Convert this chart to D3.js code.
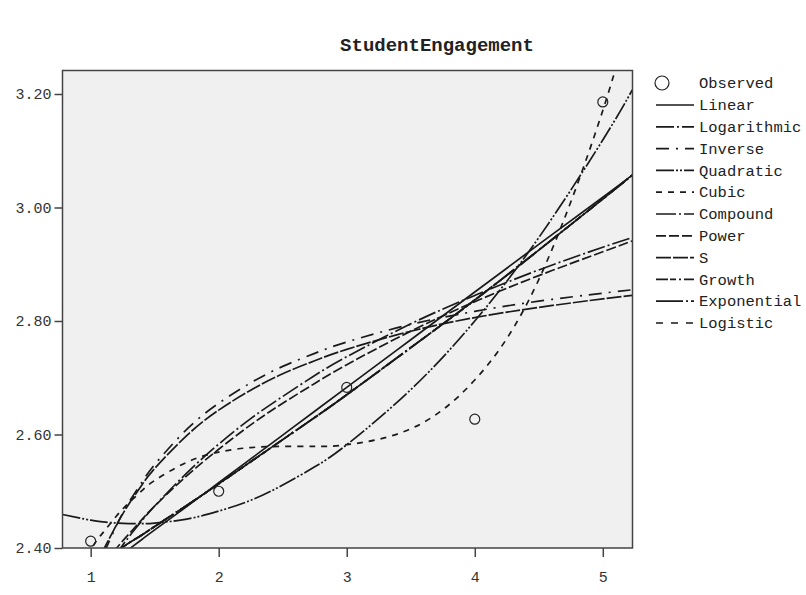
<!DOCTYPE html>
<html>
<head>
<meta charset="utf-8">
<script src="https://cdn.jsdelivr.net/npm/d3@7"></script>
<style>
  body { margin: 0; background: #fff; }
  svg text { font-family: "Liberation Mono", "Courier New", monospace; fill: #222; }
</style>
</head>
<body>
<script>
// observed category means
var categories = [1, 2, 3, 4, 5];
var observed = [2.412, 2.500, 2.683, 2.627, 3.186];

// fitted curves, values at these x positions
var xGrid = [0.78, 1.0, 1.1, 1.2, 1.3, 1.4, 1.5, 1.75, 2.0, 2.25, 2.5, 2.75, 3.0, 3.5, 4.0, 4.5, 5.0, 5.23];
var linearFit =      [2.311, 2.348, 2.364, 2.381, 2.398, 2.415, 2.432, 2.473, 2.515, 2.557, 2.599, 2.641, 2.683, 2.767, 2.851, 2.935, 3.018, 3.057];
var logarithmicFit = [2.226, 2.320, 2.356, 2.389, 2.420, 2.448, 2.474, 2.532, 2.583, 2.628, 2.667, 2.704, 2.737, 2.795, 2.845, 2.890, 2.930, 2.947];
var inverseFit =     [2.148, 2.331, 2.390, 2.439, 2.481, 2.516, 2.547, 2.609, 2.655, 2.691, 2.720, 2.743, 2.763, 2.794, 2.817, 2.835, 2.849, 2.855];
var quadraticFit =   [2.459, 2.449, 2.446, 2.444, 2.443, 2.443, 2.444, 2.451, 2.465, 2.484, 2.511, 2.543, 2.582, 2.679, 2.800, 2.947, 3.119, 3.207];
var cubicFit =       [2.312, 2.397, 2.428, 2.456, 2.480, 2.501, 2.519, 2.551, 2.569, 2.577, 2.579, 2.579, 2.582, 2.610, 2.696, 2.873, 3.171, 3.359];
var compoundFit =    [2.334, 2.365, 2.380, 2.394, 2.409, 2.423, 2.438, 2.475, 2.513, 2.552, 2.591, 2.630, 2.670, 2.753, 2.837, 2.925, 3.015, 3.057];
var powerFit =       [2.260, 2.339, 2.370, 2.399, 2.425, 2.450, 2.474, 2.527, 2.574, 2.617, 2.655, 2.690, 2.723, 2.782, 2.834, 2.880, 2.922, 2.941];
var sFit =           [2.192, 2.345, 2.397, 2.440, 2.478, 2.511, 2.540, 2.598, 2.643, 2.678, 2.707, 2.730, 2.750, 2.782, 2.806, 2.824, 2.839, 2.845];
var growthFit = compoundFit;
var exponentialFit = compoundFit;
var logisticFit = compoundFit;

var xTicks = [1, 2, 3, 4, 5];
var yTicks = [2.40, 2.60, 2.80, 3.00, 3.20];

var modelNames = ["Linear", "Logarithmic", "Inverse", "Quadratic", "Cubic", "Compound",
                  "Power", "S", "Growth", "Exponential", "Logistic"];
var modelValues = [linearFit, logarithmicFit, inverseFit, quadraticFit, cubicFit, compoundFit,
                   powerFit, sFit, growthFit, exponentialFit, logisticFit];
var modelDashes = [null, "18,3,2,3", "13,7,2,7", "18,2,2,2,2,2", "6,6", "20,3,2,3",
                   "10,3", "15,2", "12,2,6,3,2,3", "27,3,2,3", "7,8"];

var width = 806, height = 595;
var box = { left: 62.5, top: 70.5, right: 632.5, bottom: 548 };

var svg = d3.select("body").append("svg:svg")
  .attr("width", width)
  .attr("height", height);

var x = d3.scaleLinear().domain([0.78, 5.232]).range([box.left, box.right]);
var y = d3.scaleLinear().domain([2.40, 3.2414]).range([box.bottom, box.top]);

svg.append("text")
  .attr("x", 437)
  .attr("y", 51)
  .attr("text-anchor", "middle")
  .style("font-size", "19px")
  .style("font-weight", "bold")
  .text("StudentEngagement");

svg.append("clipPath").attr("id", "plot-clip")
  .append("rect")
  .attr("x", box.left).attr("y", box.top)
  .attr("width", box.right - box.left).attr("height", box.bottom - box.top);

svg.append("rect")
  .attr("x", box.left).attr("y", box.top)
  .attr("width", box.right - box.left).attr("height", box.bottom - box.top)
  .style("fill", "#f0f0f0");

// axes
var yAxis = d3.axisLeft(y).tickValues(yTicks).tickFormat(d3.format(".2f")).tickSize(8).tickPadding(3);
var xAxis = d3.axisBottom(x).tickValues(xTicks).tickFormat(d3.format("d")).tickSize(9).tickPadding(14);

var gy = svg.append("g").attr("transform", "translate(" + box.left + ",0)").call(yAxis);
var gx = svg.append("g").attr("transform", "translate(0," + box.bottom + ")").call(xAxis);
[gx, gy].forEach(function(g) {
  g.select(".domain").remove();
  g.selectAll(".tick line").style("stroke", "#444").style("stroke-width", 1.5);
  g.selectAll(".tick text").style("font-size", "15px").style("fill", "#333");
});

// fitted curves
var curves = svg.append("g").attr("clip-path", "url(#plot-clip)");
modelValues.forEach(function(vals, i) {
  var line = d3.line()
    .x(function(d, j) { return x(xGrid[j]); })
    .y(function(d) { return y(d); })
    .curve(d3.curveNatural);
  curves.append("path")
    .attr("d", line(vals))
    .style("fill", "none")
    .style("stroke", "#1a1a1a")
    .style("stroke-width", 1.7)
    .style("stroke-dasharray", modelDashes[i]);
});

// observed points
curves.selectAll("circle.obs").data(observed).enter().append("circle")
  .attr("class", "obs")
  .attr("cx", function(d, i) { return x(categories[i]); })
  .attr("cy", function(d) { return y(d); })
  .attr("r", 5)
  .style("fill", "none")
  .style("stroke", "#222")
  .style("stroke-width", 1.2);

// plot frame
svg.append("rect")
  .attr("x", box.left).attr("y", box.top)
  .attr("width", box.right - box.left).attr("height", box.bottom - box.top)
  .style("fill", "none")
  .style("stroke", "#444")
  .style("stroke-width", 1.5);

// legend
var legend = svg.append("g");
var rowY = function(i) { return i == 0 ? 83 : 105 + (i - 1) * 21.8; };
legend.append("circle")
  .attr("cx", 662).attr("cy", rowY(0)).attr("r", 7)
  .style("fill", "none").style("stroke", "#222").style("stroke-width", 1.2);
legend.append("text")
  .attr("x", 699).attr("y", rowY(0)).attr("dy", "0.33em")
  .style("font-size", "15.5px")
  .text("Observed");

modelNames.forEach(function(name, i) {
  legend.append("line")
    .attr("x1", 656).attr("x2", 694)
    .attr("y1", rowY(i + 1)).attr("y2", rowY(i + 1))
    .style("stroke", "#1a1a1a")
    .style("stroke-width", 1.7)
    .style("stroke-dasharray", modelDashes[i]);
  legend.append("text")
    .attr("x", 699).attr("y", rowY(i + 1)).attr("dy", "0.33em")
    .style("font-size", "15.5px")
    .text(name);
});
</script>
</body>
</html>
